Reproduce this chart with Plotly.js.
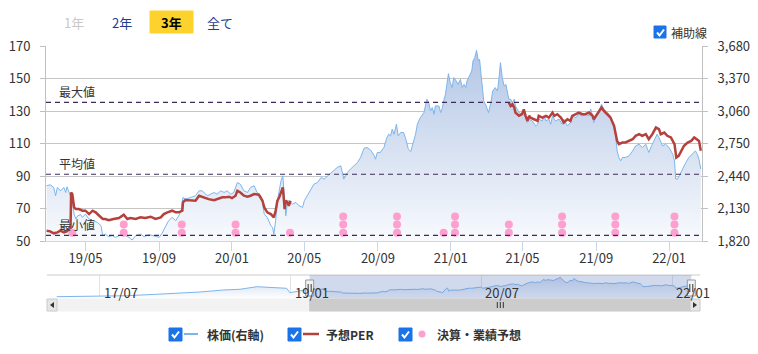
<!DOCTYPE html>
<html><head><meta charset="utf-8">
<script src="https://cdn.plot.ly/plotly-3.0.1.min.js"></script>
<style>html,body{margin:0;padding:0;background:#fff;}#chart{width:758px;height:354px;}</style>
</head><body><div id="chart"></div>
<script>
// ---------- data ----------
const stockDates = ['2019-02-25','2019-03-03','2019-03-09','2019-03-12','2019-03-15','2019-03-20','2019-03-26','2019-03-29','2019-03-31','2019-04-03','2019-04-06','2019-04-09','2019-04-12','2019-04-15','2019-04-18','2019-04-23','2019-04-26','2019-05-01','2019-05-07','2019-05-13','2019-05-21','2019-05-27','2019-05-30','2019-06-03','2019-06-09','2019-06-15','2019-06-20','2019-06-26','2019-07-04','2019-07-13','2019-07-18','2019-07-24','2019-08-01','2019-08-07','2019-08-15','2019-08-23','2019-09-01','2019-09-06','2019-09-12','2019-09-17','2019-09-23','2019-09-29','2019-10-04','2019-10-08','2019-10-11','2019-10-15','2019-10-24','2019-11-01','2019-11-07','2019-11-12','2019-11-21','2019-11-26','2019-12-02','2019-12-07','2019-12-13','2019-12-19','2019-12-24','2019-12-30','2020-01-04','2020-01-10','2020-01-15','2020-01-21','2020-01-27','2020-02-01','2020-02-07','2020-02-12','2020-02-18','2020-02-21','2020-02-24','2020-02-29','2020-03-06','2020-03-09','2020-03-11','2020-03-14','2020-03-17','2020-03-20','2020-03-23','2020-03-26','2020-03-28','2020-03-31','2020-04-03','2020-04-05','2020-04-11','2020-04-17','2020-04-22','2020-04-28','2020-05-01','2020-05-06','2020-05-12','2020-05-17','2020-05-23','2020-05-29','2020-06-03','2020-06-09','2020-06-14','2020-06-20','2020-06-25','2020-07-01','2020-07-06','2020-07-12','2020-07-17','2020-07-23','2020-07-29','2020-08-03','2020-08-09','2020-08-14','2020-08-20','2020-08-26','2020-08-28','2020-08-31','2020-09-05','2020-09-11','2020-09-16','2020-09-19','2020-09-22','2020-09-25','2020-09-28','2020-10-02','2020-10-05','2020-10-09','2020-10-14','2020-10-17','2020-10-22','2020-10-26','2020-10-28','2020-11-03','2020-11-06','2020-11-11','2020-11-17','2020-11-20','2020-11-22','2020-11-25','2020-11-28','2020-12-01','2020-12-04','2020-12-06','2020-12-12','2020-12-15','2020-12-18','2020-12-20','2020-12-23','2020-12-28','2020-12-31','2021-01-03','2021-01-06','2021-01-10','2021-01-13','2021-01-17','2021-01-20','2021-01-23','2021-01-26','2021-01-28','2021-02-01','2021-02-05','2021-02-07','2021-02-10','2021-02-13','2021-02-16','2021-02-18','2021-02-21','2021-02-25','2021-03-01','2021-03-05','2021-03-09','2021-03-12','2021-03-16','2021-03-20','2021-03-22','2021-03-25','2021-03-28','2021-03-31','2021-04-03','2021-04-05','2021-04-08','2021-04-11','2021-04-14','2021-04-17','2021-04-19','2021-04-25','2021-04-30','2021-05-06','2021-05-09','2021-05-12','2021-05-17','2021-05-23','2021-05-26','2021-05-28','2021-06-03','2021-06-06','2021-06-09','2021-06-14','2021-06-17','2021-06-20','2021-06-23','2021-06-25','2021-07-01','2021-07-06','2021-07-09','2021-07-15','2021-07-20','2021-07-23','2021-07-29','2021-08-03','2021-08-09','2021-08-14','2021-08-20','2021-08-23','2021-08-26','2021-08-28','2021-08-31','2021-09-06','2021-09-10','2021-09-14','2021-09-20','2021-09-25','2021-10-01','2021-10-04','2021-10-06','2021-10-09','2021-10-12','2021-10-15','2021-10-20','2021-10-26','2021-11-01','2021-11-06','2021-11-12','2021-11-17','2021-11-23','2021-11-28','2021-12-04','2021-12-10','2021-12-12','2021-12-15','2021-12-21','2021-12-26','2022-01-01','2022-01-07','2022-01-10','2022-01-12','2022-01-15','2022-01-18','2022-01-23','2022-01-29','2022-02-03','2022-02-09','2022-02-14','2022-02-17','2022-02-20','2022-02-23'];
const stockValues = [2350,2358,2333,2253,2333,2301,2333,2285,2339,2301,2253,2206,2079,2032,2063,2073,2048,2079,2032,2016,2000,1968,1873,1889,1864,1873,1857,1873,1883,1857,1832,1873,1889,1864,1883,1873,1857,1895,1968,2016,2048,2016,2063,2111,2238,2222,2238,2254,2301,2301,2254,2269,2285,2269,2301,2285,2301,2269,2285,2380,2364,2301,2285,2333,2349,2285,2253,2190,2079,2048,1968,1952,1889,2016,2206,2301,2396,2444,2301,2063,2206,2206,2174,2190,2158,2143,2206,2253,2317,2364,2380,2428,2412,2444,2475,2498,2523,2539,2412,2475,2507,2539,2571,2618,2707,2713,2688,2634,2602,2666,2666,2713,2808,2840,2824,2888,2840,2935,2824,2856,2856,2808,2697,2675,2713,2840,2935,2998,3046,3109,3173,3141,3062,3094,3030,3109,3109,3046,3094,3157,3220,3417,3331,3284,3379,3347,3315,3363,3284,3315,3284,3347,3395,3442,3537,3569,3639,3537,3553,3347,3157,3109,3046,3141,3252,3284,3252,3347,3522,3379,3300,3315,3268,3173,3173,3141,3173,3109,3046,3030,3014,2951,2983,2967,2919,2935,2983,2967,3014,2967,2983,2935,3014,2983,2967,2983,2935,2983,2919,2951,3014,2998,3030,3014,3030,3014,3078,3014,2951,2998,3062,3125,3078,3046,3014,2919,2808,2681,2618,2586,2618,2618,2634,2681,2729,2745,2713,2745,2666,2745,2824,2840,2808,2729,2745,2713,2650,2586,2412,2412,2444,2507,2571,2618,2650,2681,2650,2602,2507];

const perDates = ['2019-02-25','2019-03-03','2019-03-09','2019-03-15','2019-03-20','2019-03-26','2019-03-31','2019-04-06','2019-04-07','2019-04-09','2019-04-12','2019-04-15','2019-04-20','2019-04-26','2019-05-01','2019-05-07','2019-05-13','2019-05-18','2019-05-24','2019-05-30','2019-06-03','2019-06-09','2019-06-17','2019-06-26','2019-07-04','2019-07-10','2019-07-15','2019-07-24','2019-08-01','2019-08-09','2019-08-18','2019-08-26','2019-09-04','2019-09-09','2019-09-15','2019-09-23','2019-09-29','2019-10-04','2019-10-10','2019-10-11','2019-10-15','2019-10-24','2019-11-01','2019-11-07','2019-11-15','2019-11-23','2019-12-02','2019-12-07','2019-12-16','2019-12-21','2019-12-27','2020-01-01','2020-01-07','2020-01-10','2020-01-15','2020-01-21','2020-01-27','2020-02-01','2020-02-07','2020-02-15','2020-02-21','2020-02-24','2020-02-29','2020-03-06','2020-03-11','2020-03-14','2020-03-17','2020-03-20','2020-03-23','2020-03-26','2020-03-28','2020-03-29','2020-03-31','2020-04-03','2020-04-05','2020-04-08','2020-04-09','2021-04-08','2021-04-11','2021-04-14','2021-04-17','2021-04-19','2021-04-25','2021-04-30','2021-05-03','2021-05-06','2021-05-09','2021-05-12','2021-05-14','2021-05-20','2021-05-26','2021-05-28','2021-06-03','2021-06-09','2021-06-14','2021-06-20','2021-06-23','2021-06-28','2021-07-04','2021-07-09','2021-07-15','2021-07-20','2021-07-23','2021-07-29','2021-08-03','2021-08-09','2021-08-14','2021-08-20','2021-08-26','2021-08-28','2021-09-03','2021-09-10','2021-09-14','2021-09-20','2021-09-25','2021-10-01','2021-10-04','2021-10-06','2021-10-09','2021-10-15','2021-10-20','2021-10-26','2021-11-01','2021-11-06','2021-11-12','2021-11-17','2021-11-23','2021-11-28','2021-12-04','2021-12-10','2021-12-15','2021-12-18','2021-12-24','2021-12-29','2022-01-04','2022-01-10','2022-01-13','2022-01-17','2022-01-21','2022-01-26','2022-02-01','2022-02-07','2022-02-12','2022-02-17','2022-02-20','2022-02-23'];
const perValues = [56.5,56.1,54.9,55.5,56.5,55.5,56.1,57.5,80.0,79.0,70.8,69.8,69.8,68.8,68.8,66.7,68.8,67.8,65.7,63.7,63.7,63.0,63.7,64.3,66.3,63.7,64.3,63.7,64.7,64.3,65.1,63.7,64.7,66.7,67.8,68.8,67.8,67.8,68.8,73.9,75.3,74.9,74.9,78.0,77.0,75.9,75.3,75.9,77.0,77.0,77.4,76.5,78.0,81.0,80.0,78.0,77.4,78.0,79.0,78.6,74.9,70.8,67.8,66.7,64.7,68.8,74.9,77.0,80.0,83.1,74.9,69.8,74.9,73.9,71.8,74.9,null,135.2,133.2,134.2,132.2,129.1,127.1,128.1,131.1,127.1,124.0,127.1,126.0,125.0,124.0,127.1,126.0,127.1,126.0,129.1,127.1,128.1,126.0,123.0,125.0,124.0,127.1,128.1,129.1,128.1,128.1,129.1,127.1,125.0,128.1,132.2,130.1,128.1,126.0,120.9,115.8,111.7,109.7,110.7,110.7,111.7,112.7,114.8,115.8,114.8,115.8,112.7,115.8,119.9,118.9,115.8,116.8,114.8,113.8,109.7,101.5,102.5,105.6,108.7,110.7,111.7,113.8,112.7,111.7,105.6];

const eventDates = ['2019-04-09','2019-07-04','2019-10-09','2020-01-07','2020-04-07','2020-07-05','2020-10-03','2020-12-20','2021-01-08','2021-04-08','2021-07-06','2021-10-03','2022-01-10'];
const eventCounts = [1,2,2,2,1,3,3,1,3,2,3,3,3];
const eventLevels = [55.3, 60.3, 65.3];

const navEarlyDates = ['2017-02-27','2017-04-15','2017-07-01','2017-09-16','2017-12-11','2018-02-16','2018-04-15','2018-06-21','2018-08-08','2018-09-25','2018-11-11','2018-12-20','2018-12-29','2019-01-27'];
const navEarlyValues = [1470,1490,1580,1580,1740,1850,1995,2220,2300,2590,2520,2410,1920,2110];

const perTicks = [50,70,90,110,130,150,170];
const stockTicks = [1820,2130,2440,2750,3060,3370,3680];
const xTickVals = ['2019-05-01','2019-09-01','2020-01-01','2020-05-01','2020-09-01','2021-01-01','2021-05-01','2021-09-01','2022-01-01'];
const navTickVals = ['2017-07-01','2019-01-01','2020-07-01','2022-01-01'];
const navTickText = ['17/07','19/01','20/07','22/01'];
const refNames = ['最大値','平均値','最小値'];
const refValues = [135.3, 91.2, 53.6];
const buttonLabels = ['1年','2年','3年','全て'];
const legendLabels = ['株価(右軸)','予想PER','決算・業績予想'];

const rangeStart = '2019-02-24', rangeEnd = '2022-02-25';
const navStart = '2017-01-30', navEnd = '2022-03-22';

// ---------- layout helpers ----------
const W = 758, H = 354, ML = 46, MR = 56, MT = 46, MB = 43;
const PW = W - ML - MR, PH = H - MT - MB;
const px = x => (x - ML) / PW;
const py = y => (H - MB - y) / PH;
const FONT = 'Noto Sans CJK JP, Noto Sans, sans-serif';
const BLUE = '#7cb5ec', RED = '#b5413c', PINK = '#ff9fd0';

// events stacked
const evX = [], evY = [];
eventDates.forEach((d, i) => { for (let k = 0; k < eventCounts[i]; k++) { evX.push(d); evY.push(eventLevels[k]); } });

const navX = navEarlyDates.concat(stockDates);
const navY = navEarlyValues.concat(stockValues);

const traces = [
  {x: stockDates, y: stockValues, xaxis: 'x', yaxis: 'y', type: 'scatter', mode: 'lines',
   line: {color: BLUE, width: 1}, fill: 'tozeroy',
   fillgradient: {type: 'vertical', start: 1820, stop: 3680, colorscale: [[0, '#f8fafd'], [1, '#b2c5e5']]}},
  {x: perDates, y: perValues, xaxis: 'x', yaxis: 'y2', type: 'scatter', mode: 'lines',
   line: {color: RED, width: 2.5}, connectgaps: false},
  {x: evX, y: evY, xaxis: 'x', yaxis: 'y2', type: 'scatter', mode: 'markers',
   marker: {color: PINK, size: 8}},
  {x: navX, y: navY, xaxis: 'x2', yaxis: 'y3', type: 'scatter', mode: 'lines',
   line: {color: BLUE, width: 1}, fill: 'tozeroy',
   fillgradient: {type: 'vertical', start: 1212, stop: 3898, colorscale: [[0, '#ffffff'], [1, '#c8d8ef']]}}
];

const shapes = [], annotations = [];

// reference lines
refValues.forEach((v, i) => {
  shapes.push({type: 'line', xref: 'paper', yref: 'y2', x0: 0, x1: 1, y0: v, y1: v,
    line: {color: '#3d2b5a', width: 1.2, dash: '5px,4px'}, layer: 'above'});
  annotations.push({xref: 'paper', yref: 'y2', x: px(57), y: v, xanchor: 'left', yanchor: 'bottom',
    text: refNames[i], showarrow: false, yshift: 0, font: {size: 12, color: '#333', family: FONT}});
});

// navigator
shapes.push({type: 'line', xref: 'paper', yref: 'paper', x0: px(47), x1: px(700), y0: py(275), y1: py(275),
  line: {color: '#cccccc', width: 1}, layer: 'above'});
shapes.push({type: 'rect', xref: 'x2', yref: 'paper', x0: rangeStart, x1: rangeEnd, y0: py(299), y1: py(275),
  fillcolor: 'rgba(102,133,194,0.3)', line: {width: 0}, layer: 'above'});
navTickVals.forEach((d, i) => {
  annotations.push({xref: 'x2', yref: 'paper', x: d, y: py(292), xanchor: 'left', yanchor: 'middle', xshift: 2,
    text: navTickText[i], showarrow: false, font: {size: 13, color: '#333', family: FONT}});
});
// scrollbar
shapes.push({type: 'rect', xref: 'paper', yref: 'paper', x0: px(47), x1: px(700), y0: py(311), y1: py(299),
  fillcolor: '#f2f2f2', line: {color: '#f2f2f2', width: 1}, layer: 'above'});
shapes.push({type: 'rect', xref: 'x2', yref: 'paper', x0: rangeStart, x1: rangeEnd, y0: py(311), y1: py(299),
  fillcolor: '#cccccc', line: {color: '#cccccc', width: 1}, layer: 'above'});
const midDate = new Date((Date.parse(rangeStart) + Date.parse(rangeEnd)) / 2).toISOString().slice(0, 10);
[-3, 0, 3].forEach(o => shapes.push({type: 'line', xref: 'x2', yref: 'paper', xsizemode: 'pixel', xanchor: midDate,
  x0: o, x1: o, y0: py(302), y1: py(308), line: {color: '#333', width: 1}, layer: 'above'}));
shapes.push({type: 'rect', xref: 'paper', yref: 'paper', x0: px(47), x1: px(57), y0: py(311), y1: py(299),
  fillcolor: '#e6e6e6', line: {color: '#cccccc', width: 1}, layer: 'above'});
shapes.push({type: 'path', xref: 'paper', yref: 'paper', path: `M${px(54)},${py(302)} L${px(50)},${py(305)} L${px(54)},${py(308)} Z`,
  fillcolor: '#333', line: {width: 0}, layer: 'above'});
shapes.push({type: 'rect', xref: 'paper', yref: 'paper', x0: px(690), x1: px(700), y0: py(311), y1: py(299),
  fillcolor: '#e6e6e6', line: {color: '#cccccc', width: 1}, layer: 'above'});
shapes.push({type: 'path', xref: 'paper', yref: 'paper', path: `M${px(693)},${py(302)} L${px(697)},${py(305)} L${px(693)},${py(308)} Z`,
  fillcolor: '#333', line: {width: 0}, layer: 'above'});
// handles
[rangeStart, rangeEnd].forEach(d => {
  shapes.push({type: 'rect', xref: 'x2', yref: 'paper', xsizemode: 'pixel', xanchor: d, x0: -4, x1: 4,
    y0: py(296), y1: py(280), fillcolor: '#f2f2f2', line: {color: '#999', width: 1}, layer: 'above'});
  [-1.5, 1.5].forEach(o => shapes.push({type: 'line', xref: 'x2', yref: 'paper', xsizemode: 'pixel', xanchor: d,
    x0: o, x1: o, y0: py(284), y1: py(292), line: {color: '#333', width: 1}, layer: 'above'}));
});

// range buttons
shapes.push({type: 'rect', xref: 'paper', yref: 'paper', x0: px(150), x1: px(193), y0: py(33), y1: py(11),
  fillcolor: '#fdd22c', line: {color: '#fdd22c', width: 1}, layer: 'above'});
const btnX = [74, 122, 171, 220];
const btnColor = ['#c8c8c8', '#1f3c8c', '#000000', '#1f3c8c'];
buttonLabels.forEach((t, i) => annotations.push({xref: 'paper', yref: 'paper', x: px(btnX[i]), y: py(22),
  xanchor: 'center', yanchor: 'middle', showarrow: false,
  text: i === 2 ? '<b>' + t + '</b>' : t, font: {size: 13, color: btnColor[i], family: FONT}}));

// checkboxes
function checkbox(x, y, s) {
  shapes.push({type: 'rect', xref: 'paper', yref: 'paper', x0: px(x), x1: px(x + s), y0: py(y + s), y1: py(y),
    fillcolor: '#1a73e8', line: {color: '#1a73e8', width: 1}, layer: 'above'});
  shapes.push({type: 'path', xref: 'paper', yref: 'paper',
    path: `M${px(x + 3)},${py(y + 6.5)} L${px(x + 5.5)},${py(y + 9.5)} L${px(x + 10)},${py(y + 3.5)}`,
    line: {color: '#ffffff', width: 2}, layer: 'above'});
}
checkbox(654, 26, 12);
annotations.push({xref: 'paper', yref: 'paper', x: px(669), y: py(32), xanchor: 'left', yanchor: 'middle',
  showarrow: false, text: '補助線', font: {size: 12, color: '#333', family: FONT}});

// bottom legend
checkbox(169, 328, 13);
shapes.push({type: 'line', xref: 'paper', yref: 'paper', x0: px(184), x1: px(198), y0: py(334), y1: py(334),
  line: {color: BLUE, width: 2}, layer: 'above'});
annotations.push({xref: 'paper', yref: 'paper', x: px(205), y: py(334), xanchor: 'left', yanchor: 'middle',
  showarrow: false, text: '<b>' + legendLabels[0] + '</b>', font: {size: 12, color: '#333', family: FONT}});
checkbox(288, 328, 13);
shapes.push({type: 'line', xref: 'paper', yref: 'paper', x0: px(303), x1: px(319), y0: py(334), y1: py(334),
  line: {color: RED, width: 2.5}, layer: 'above'});
annotations.push({xref: 'paper', yref: 'paper', x: px(324), y: py(334), xanchor: 'left', yanchor: 'middle',
  showarrow: false, text: '<b>' + legendLabels[1] + '</b>', font: {size: 12, color: '#333', family: FONT}});
checkbox(399, 328, 13);
shapes.push({type: 'circle', xref: 'paper', yref: 'paper', x0: px(418.5), x1: px(425.5), y0: py(337.5), y1: py(330.5),
  fillcolor: PINK, line: {width: 0}, layer: 'above'});
annotations.push({xref: 'paper', yref: 'paper', x: px(435), y: py(334), xanchor: 'left', yanchor: 'middle',
  showarrow: false, text: '<b>' + legendLabels[2] + '</b>', font: {size: 12, color: '#333', family: FONT}});

const layout = {
  width: W, height: H, margin: {l: ML, r: MR, t: MT, b: MB, pad: 0},
  paper_bgcolor: '#ffffff', plot_bgcolor: '#ffffff', showlegend: false,
  font: {family: FONT, size: 13, color: '#333'},
  xaxis: {domain: [0, 1], anchor: 'y', type: 'date', range: [rangeStart, rangeEnd],
    tickvals: xTickVals, tickformat: '%y/%m', ticks: 'outside', ticklen: 9, tickcolor: '#ccd6eb',
    ticklabelstandoff: -4,
    showline: true, linecolor: '#ccd6eb', showgrid: false, zeroline: false,
    tickfont: {size: 13, color: '#333'}},
  yaxis: {domain: [py(241.3), 1], anchor: 'x', side: 'right', range: [1820, 3680],
    tickvals: stockTicks, tickformat: ',d', showgrid: true, gridcolor: '#c6c6c6', gridwidth: 1,
    showline: true, linecolor: '#c0c0c0', ticks: 'outside', ticklen: 5, tickcolor: '#c0c0c0',
    ticklabelstandoff: 7,
    zeroline: false, tickfont: {size: 13, color: '#333'}},
  yaxis2: {overlaying: 'y', anchor: 'x', side: 'left', range: [50, 170], tickvals: perTicks,
    showgrid: false, showline: true, linecolor: '#c0c0c0', ticks: 'outside', ticklen: 5, tickcolor: '#c0c0c0',
    ticklabelstandoff: 7,
    zeroline: false, tickfont: {size: 13, color: '#333'}},
  xaxis2: {domain: [px(47), px(700)], anchor: 'y3', type: 'date', range: [navStart, navEnd],
    tickvals: navTickVals, showticklabels: false, ticks: '', showgrid: true, gridcolor: '#e3e3e3',
    showline: false, zeroline: false},
  yaxis3: {domain: [py(299), py(275)], anchor: 'x2', range: [1212, 3898], visible: false, showgrid: false},
  shapes: shapes, annotations: annotations
};

Plotly.newPlot('chart', traces, layout, {staticPlot: true, displayModeBar: false});
</script>
</body></html>
